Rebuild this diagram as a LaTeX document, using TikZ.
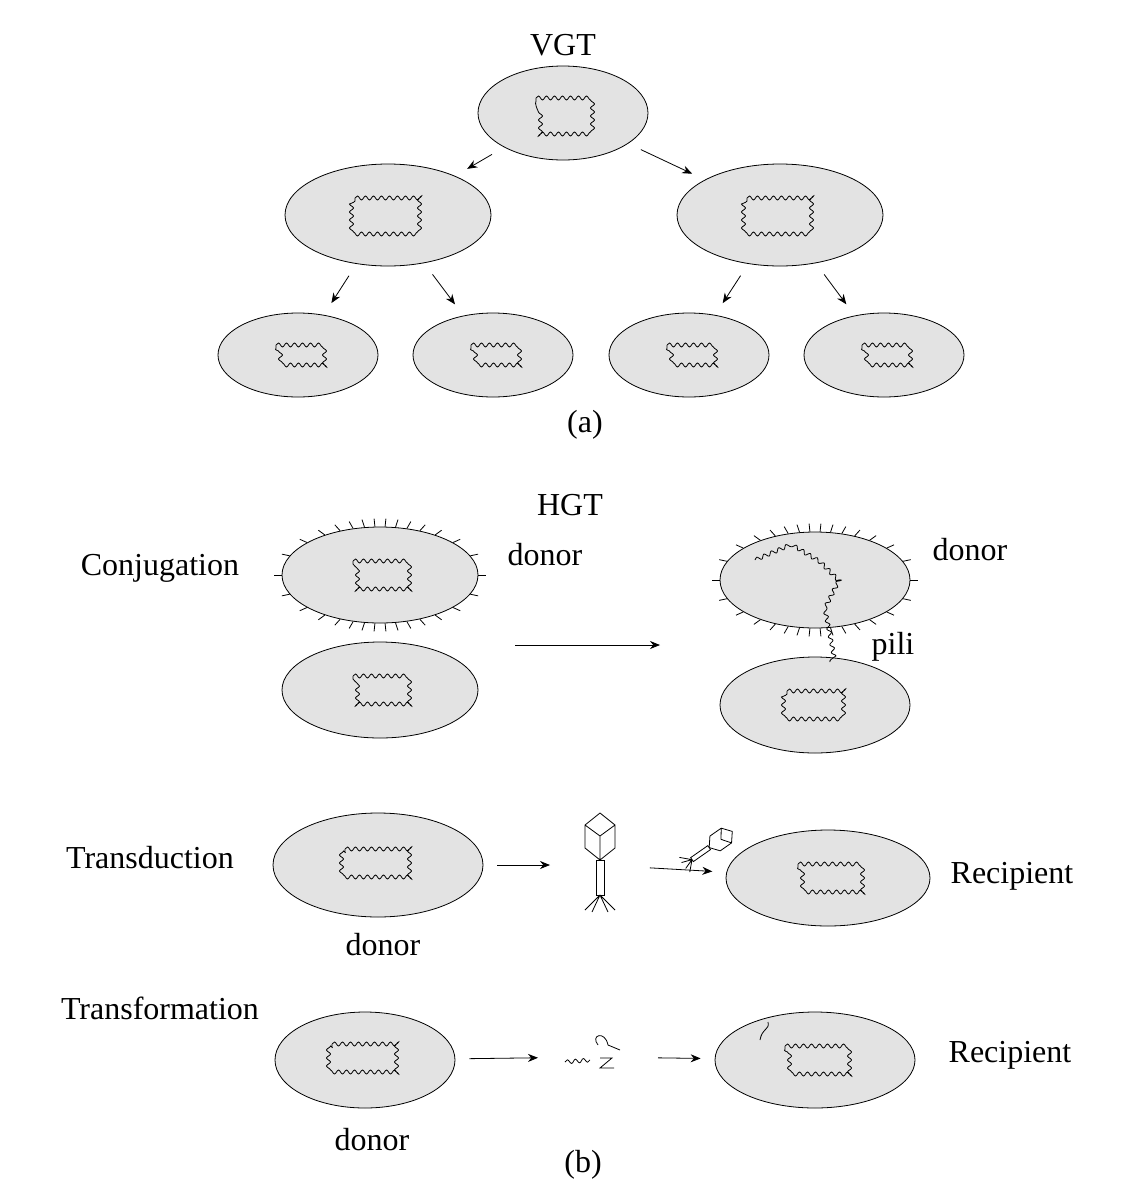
\documentclass[tikz,border=0pt]{standalone}
\usepackage{fontspec}
\setmainfont{Liberation Serif}
\usetikzlibrary{shapes.geometric,decorations.pathmorphing,calc,arrows.meta}
\tikzset{
cell/.style = {ellipse, draw, fill=gray!22, inner sep=0pt},
big/.style = {cell, minimum width=103pt, minimum height=51pt},
small/.style = {cell, minimum width=80pt, minimum height=42pt},
arr/.style = {draw, -{Stealth[length=5pt,width=4pt]}, shorten <=7pt, shorten >=7pt},
lbl/.style = {font=\fontsize{16}{18}\selectfont},
dnaline/.style = {decorate, decoration={snake, segment length=4pt, amplitude=1pt}}
}
% chromosome loop inside a cell
\newcommand{\dna}[3]{\draw[dnaline] ($(#1)+(-#2,-#3)$) -- ($(#1)+(#2,-#3)$) -- ($(#1)+(#2,#3)$) -- ($(#1)+(-#2,#3)$) -- cycle;}
\newcommand{\pili}[1]{\foreach \a in {0,12,...,348} \draw ($(#1.\a)$) -- ($(#1.\a)!-4pt!(#1.center)$);}
\begin{document}
\begin{tikzpicture}[x=0.5pt, y=-0.5pt]
\useasboundingbox (0,0) rectangle (1129,1200);

% (a) vertical transfer
\node[lbl] at (563,45) {VGT};
\node[cell, minimum width=85pt, minimum height=47pt] (t) at (563,113) {};
\node[big] (l) at (388,215) {};
\node[big] (r) at (780,215) {};
\node[small] (ll) at (298,355) {};
\node[small] (lr) at (493,355) {};
\node[small] (rl) at (689,355) {};
\node[small] (rr) at (884,355) {};
\dna{t}{27}{15}
\foreach \c in {l,r} {\dna{\c}{33}{17}}
\foreach \c in {ll,lr,rl,rr} {\dna{\c}{22}{10}}
\draw[arr] (t) -- (l);
\draw[arr] (t) -- (r);
\draw[arr] (l) -- (ll);
\draw[arr] (l) -- (lr);
\draw[arr] (r) -- (rl);
\draw[arr] (r) -- (rr);
\node[lbl] at (585,425) {(a)};

% (b) horizontal transfer
\node[lbl] at (570,505) {HGT};
\node[lbl] at (160,568) {Conjugation};
\node[big, minimum width=98pt, minimum height=48pt] (cd) at (380,575) {};
\node[big, minimum width=98pt, minimum height=48pt] (cr) at (380,690) {};
\node[lbl] at (545,555) {donor};
\dna{cd}{27}{14}
\dna{cr}{27}{14}
\pili{cd}
\coordinate (ca) at (515,645);
\coordinate (cb) at (660,645);
\draw[arr, shorten <=0pt, shorten >=0pt] (ca) -- (cb);
\node[big, minimum width=95pt, minimum height=48pt] (pd) at (815,580) {};
\node[big, minimum width=95pt, minimum height=48pt] (pr) at (815,705) {};
\pili{pd}
\dna{pr}{28}{14}
\draw[dnaline] (755,560) -- (790,545) -- (815,560) -- (835,580) -- (820,610) -- (830,662);
\node[lbl] at (970,550) {donor};
\node[lbl] at (893,647) {pili};

\node[lbl] at (150,858) {Transduction};
\node[big, minimum width=105pt, minimum height=52pt] (td) at (378,865) {};
\dna{td}{33}{16}
\node[lbl] at (383,945) {donor};
\node[big, minimum width=102pt, minimum height=48pt] (tr) at (828,878) {};
\dna{tr}{30}{14}
\node[lbl] at (1012,876) {Recipient};
\coordinate (ph) at (600,865);
\draw[arr, shorten >=25pt] (td) -- (ph);
\draw[arr, shorten <=25pt] (ph) -- (tr);
% phage
\draw (600,813) -- (615,825) -- (615,848) -- (600,860) -- (585,848) -- (585,825) -- cycle
 (585,825) -- (600,836) -- (615,825) (600,836) -- (600,860);
\draw (596,860) rectangle (604,895);
\draw (600,895) -- (585,910) (600,895) -- (592,912) (600,895) -- (608,912) (600,895) -- (615,910);
\begin{scope}[shift={(720,840)}, rotate=-55, scale=0.6]
\draw (0,-25) -- (15,-13) -- (15,10) -- (0,22) -- (-15,10) -- (-15,-13) -- cycle (-15,-13) -- (0,-2) -- (15,-13);
\draw (-4,22) rectangle (4,57);
\draw (0,57) -- (-15,72) (0,57) -- (-6,74) (0,57) -- (6,74) (0,57) -- (15,72);
\end{scope}

\node[lbl] at (160,1008) {Transformation};
\node[big, minimum width=90pt, minimum height=48pt] (fd) at (365,1060) {};
\dna{fd}{33}{16}
\node[lbl] at (372,1140) {donor};
\node[big, minimum width=100pt, minimum height=48pt] (fr) at (815,1060) {};
\dna{fr}{30}{14}
\draw (760,1040) .. controls (762,1028) and (770,1030) .. (768,1022);
\node[lbl] at (1010,1055) {Recipient};
\coordinate (fg) at (598,1057);
\draw[arr, shorten >=30pt] (fd) -- (fg);
\draw[arr, shorten <=30pt] (fg) -- (fr);
% loose fragments
\draw[dnaline] (565,1062) -- (590,1060);
\draw (600,1058) -- (612,1058) -- (600,1068) -- (614,1068) (598,1045) .. controls (590,1035) and (605,1030) .. (608,1045) -- (620,1050);
\node[lbl] at (583,1165) {(b)};
\end{tikzpicture}
\end{document}
